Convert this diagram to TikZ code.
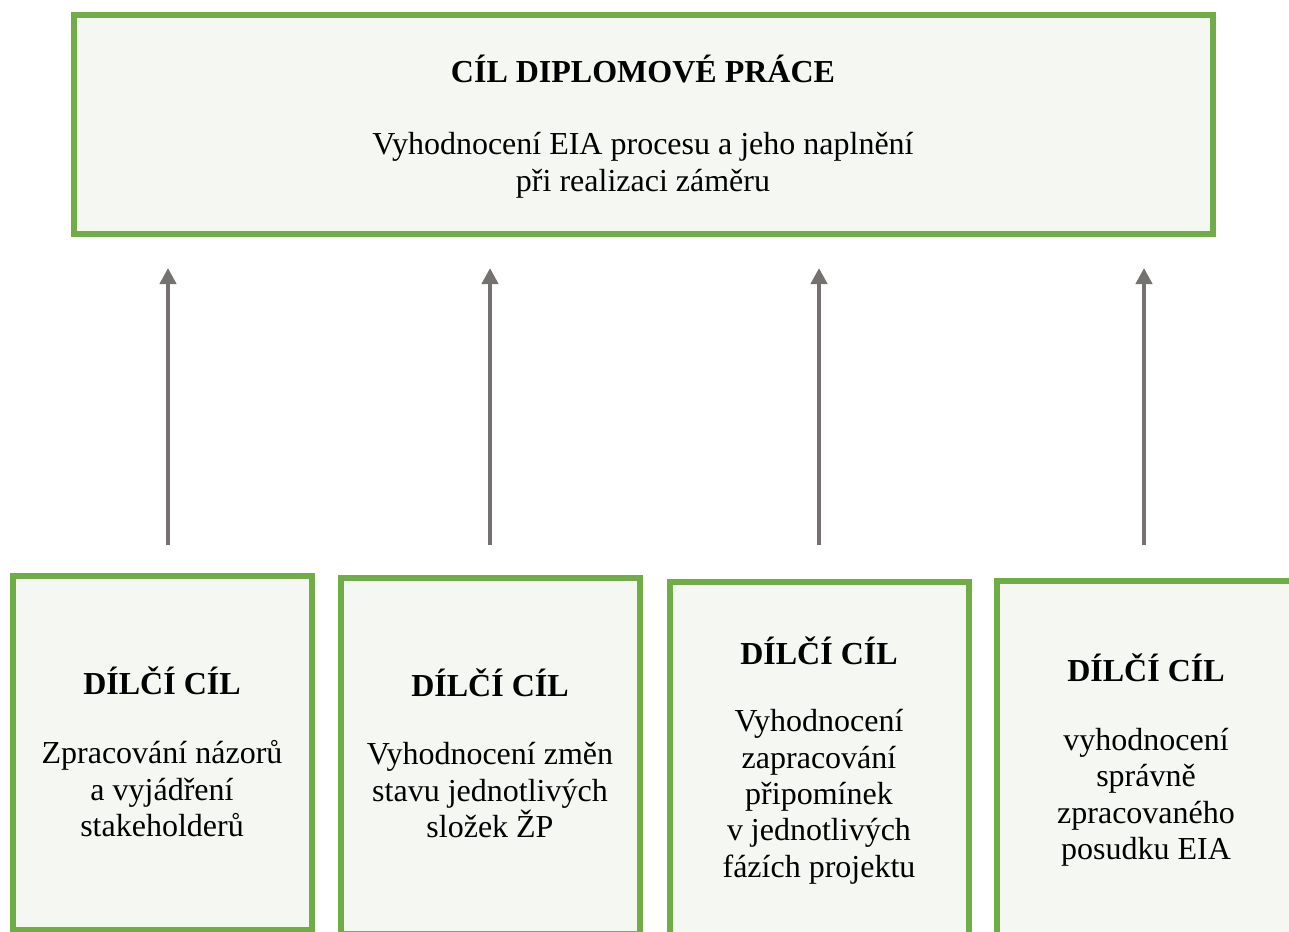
\documentclass[tikz,border=0pt]{standalone}
\usepackage{fontspec}
\setmainfont{Liberation Serif}
\usetikzlibrary{arrows.meta}
\definecolor{boxgreen}{HTML}{70AD47}
\definecolor{boxfill}{HTML}{F5F7F2}
\definecolor{arrowgray}{HTML}{767171}
\tikzset{
  goalbox/.style={draw=boxgreen, fill=boxfill, line width=6pt},
  ttl/.style={font=\fontsize{32}{36.5}\selectfont\bfseries, anchor=base, inner sep=0pt},
  body/.style={font=\fontsize{32}{36.3}\selectfont, align=center, anchor=base, inner sep=0pt},
  uparrow/.style={draw=arrowgray, line width=4pt, -{Triangle[length=16pt,width=16pt]}}
}
\begin{document}
\begin{tikzpicture}[x=1pt,y=-1pt]
\useasboundingbox (0,0) rectangle (1289,931);
\clip (0,0) rectangle (1289,931);
% top box
\draw[goalbox] (74,15.5) rectangle (1213,234);
\node[ttl] (maintitle) at (643,82.5) {CÍL DIPLOMOVÉ PRÁCE};
% anchor base = baseline of the last line
\node[body] (maintext) at (643,191) {Vyhodnocení EIA procesu a jeho naplnění\\při realizaci záměru};
% bottom boxes
\draw[goalbox] (13,576) rectangle (312,930);
\draw[goalbox] (341,578) rectangle (640,933.5);
\draw[goalbox] (670,582) rectangle (969,960);
\draw[goalbox] (997,581) rectangle (1300,960);
\node[ttl] (t1) at (162,694) {DÍLČÍ CÍL};
\node[body] (b1) at (162,836.5) {Zpracování názorů\\a vyjádření\\stakeholderů};
\node[ttl] (t2) at (490,696) {DÍLČÍ CÍL};
\node[body] (b2) at (490,837.5) {Vyhodnocení změn\\stavu jednotlivých\\složek ŽP};
\node[ttl] (t3) at (819,664) {DÍLČÍ CÍL};
\node[body] (b3) at (819,877) {Vyhodnocení\\zapracování\\připomínek\\v~jednotlivých\\fázích projektu};
\node[ttl] (t4) at (1146,681) {DÍLČÍ CÍL};
\node[body] (b4) at (1146,859.5) {vyhodnocení\\správně\\zpracovaného\\posudku EIA};
% arrows
\coordinate (s1) at (168,545); \coordinate (e1) at (168,268);
\coordinate (s2) at (490,545); \coordinate (e2) at (490,268);
\coordinate (s3) at (819,545); \coordinate (e3) at (819,268);
\coordinate (s4) at (1144,545); \coordinate (e4) at (1144,268);
\draw[uparrow] (s1) -- (e1);
\draw[uparrow] (s2) -- (e2);
\draw[uparrow] (s3) -- (e3);
\draw[uparrow] (s4) -- (e4);
\end{tikzpicture}
\end{document}
